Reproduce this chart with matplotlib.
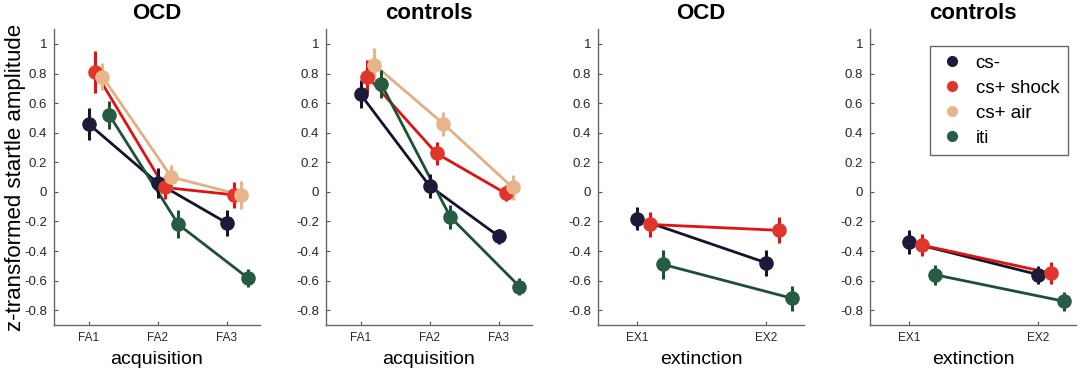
import matplotlib
matplotlib.use("Agg")
import matplotlib.pyplot as plt
import numpy as np

# series names and colours
SERIES = ["cs-", "cs+ shock", "cs+ air", "iti"]
MCOL = {"cs-": "#1c1b3a", "cs+ shock": "#e0352b", "cs+ air": "#e8b48a", "iti": "#275c44"}
LCOL = {"cs-": "#14132b", "cs+ shock": "#e01212", "cs+ air": "#e3ae84", "iti": "#1f4f36"}

# acquisition phase
acq_labels = ["FA1", "FA2", "FA3"]
ocd_acq_mean = {"cs-": [0.46, 0.06, -0.21], "cs+ shock": [0.81, 0.03, -0.02],
                "cs+ air": [0.78, 0.10, -0.02], "iti": [0.52, -0.22, -0.58]}
ocd_acq_err = {"cs-": [0.11, 0.10, 0.09], "cs+ shock": [0.14, 0.08, 0.09],
               "cs+ air": [0.09, 0.08, 0.095], "iti": [0.095, 0.095, 0.06]}
ctl_acq_mean = {"cs-": [0.66, 0.04, -0.30], "cs+ shock": [0.78, 0.26, -0.01],
                "cs+ air": [0.86, 0.46, 0.03], "iti": [0.73, -0.17, -0.64]}
ctl_acq_err = {"cs-": [0.095, 0.08, 0.05], "cs+ shock": [0.11, 0.08, 0.055],
               "cs+ air": [0.11, 0.08, 0.085], "iti": [0.095, 0.08, 0.055]}

# extinction phase (no cs+ air)
ext_labels = ["EX1", "EX2"]
ocd_ext_mean = {"cs-": [-0.18, -0.48], "cs+ shock": [-0.22, -0.26], "iti": [-0.49, -0.72]}
ocd_ext_err = {"cs-": [0.08, 0.09], "cs+ shock": [0.087, 0.087], "iti": [0.10, 0.087]}
ctl_ext_mean = {"cs-": [-0.34, -0.56], "cs+ shock": [-0.36, -0.55], "iti": [-0.56, -0.74]}
ctl_ext_err = {"cs-": [0.08, 0.06], "cs+ shock": [0.073, 0.073], "iti": [0.068, 0.062]}

panels = [
    ("OCD", "acquisition", acq_labels, ocd_acq_mean, ocd_acq_err),
    ("controls", "acquisition", acq_labels, ctl_acq_mean, ctl_acq_err),
    ("OCD", "extinction", ext_labels, ocd_ext_mean, ocd_ext_err),
    ("controls", "extinction", ext_labels, ctl_ext_mean, ctl_ext_err),
]
lefts = [0.0498, 0.3007, 0.5517, 0.8026]

fig = plt.figure(figsize=(10.84, 3.74), dpi=100)
plt.rcParams["font.family"] = ["Liberation Sans", "DejaVu Sans"]

axes = []
for i, (title, xlab, labels, means, errs) in enumerate(panels):
    ax = fig.add_axes([lefts[i], 0.131, 0.190, 0.791])
    axes.append(ax)
    x = np.arange(1, len(labels) + 1)
    present = [s for s in SERIES if s in means]
    for k, s in enumerate(present):
        xs = x + 0.1 * k  # small dodge per condition
        m = np.array(means[s]); e = np.array(errs[s])
        ax.plot(xs, m, "-", color=LCOL[s], lw=2, zorder=2)
        ax.vlines(xs, m - e, m + e, color=LCOL[s] if s != "cs+ air" else MCOL[s], lw=2.2, zorder=3)
        ax.plot(xs, m, "o", color=MCOL[s], ms=10.5, mec="none", zorder=4)
    if len(labels) == 3:
        ax.set_xlim(0.5, 3.48)
    else:
        ax.set_xlim(0.7, 2.29)
    ax.set_ylim(-0.9, 1.1)
    yt = np.round(np.arange(-0.8, 1.01, 0.2), 1)
    ax.set_yticks(yt)
    ax.set_yticklabels(["%g" % (v + 0.0) if abs(v) > 1e-9 else "0" for v in yt],
                       fontsize=9.5, color="#262626")
    ax.set_xticks(x)
    ax.set_xticklabels(labels, fontsize=8.5, color="#262626")
    ax.tick_params(direction="in", length=3, width=0.8, color="#555555", pad=5)
    for sp in ["top", "right"]:
        ax.spines[sp].set_visible(False)
    for sp in ["left", "bottom"]:
        ax.spines[sp].set_color("#666666")
        ax.spines[sp].set_linewidth(1.0)
    ax.set_title(title, fontsize=16, fontweight="bold", pad=7)
    ax.set_xlabel(xlab, fontsize=14, labelpad=5)

axes[0].set_ylabel("z-transformed startle amplitude", fontsize=16)
axes[0].yaxis.set_label_coords(-0.135, 0.5)

# legend in last panel
handles = [plt.Line2D([], [], ls="", marker="o", ms=8, color=MCOL[s], mec="none") for s in SERIES]
leg = axes[3].legend(handles, SERIES, loc="upper right", bbox_to_anchor=(1.005, 0.975),
                     fontsize=13.5, frameon=True, fancybox=False, handletextpad=0.5,
                     borderpad=0.45, labelspacing=0.42, handlelength=1.5)
leg.get_frame().set_edgecolor("#444444")
leg.get_frame().set_linewidth(1.0)

fig.savefig("out.png", dpi=100)
